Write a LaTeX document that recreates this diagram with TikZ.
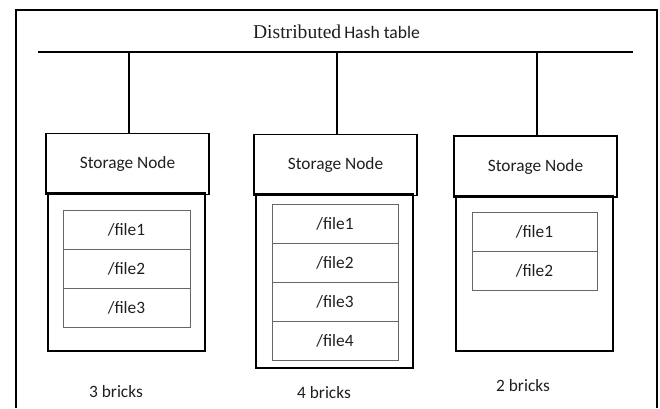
\documentclass[tikz,border=0pt]{standalone}
\usepackage{fontspec}
\setmainfont{Carlito}
\newfontfamily\timesf{Liberation Serif}
\begin{document}
\begin{tikzpicture}[x=0.75pt,y=-0.75pt,
  every node/.style={inner sep=0pt,outer sep=0pt,text=black!88},
  snode/.style={draw=black,line width=1.1pt,minimum width=122.25pt,minimum height=45.75pt,font=\fontsize{13}{15}\selectfont},
  obox/.style={draw=black,line width=1.1pt,minimum width=117.75pt},
  frow/.style={draw=black!60,line width=0.7pt,minimum height=29.25pt,font=\fontsize{13}{15}\selectfont},
  lbl/.style={font=\fontsize{13}{15}\selectfont},
  wire/.style={line width=1.1pt}]
\useasboundingbox (0,0) rectangle (660,408);
\draw[line width=1.5pt] (16,408) -- (16,10) -- (657,10) -- (657,408);
\node[anchor=base] (title) at (336.5,38) {{\timesf\fontsize{14.7}{16}\selectfont Distributed} {\fontsize{13.2}{15}\selectfont Hash table}};
\coordinate (busL) at (38,52);
\coordinate (busR) at (633,52);
\draw[line width=1.6pt] (busL) -- (busR);
\coordinate (b1) at (129,52);
\coordinate (b2) at (337,52);
\coordinate (b3) at (537,52);
% node 1
\node[snode] (sn1) at (127.5,164) {Storage Node};
\node[obox,minimum height=118.5pt] (ob1) at (126.5,272) {};
\node[frow,minimum width=95.25pt] (f11) at (126.5,229.5) {/file1};
\node[frow,minimum width=95.25pt] (f12) at (126.5,268.5) {/file2};
\node[frow,minimum width=95.25pt] (f13) at (126.5,307.5) {/file3};
\node[lbl] (l1) at (116,392) {3 bricks};
% node 2
\node[snode] (sn2) at (335.5,165) {Storage Node};
\node[obox,minimum height=130.5pt] (ob2) at (334.5,281) {};
\node[frow,minimum width=94.5pt] (f21) at (335,223.5) {/file1};
\node[frow,minimum width=94.5pt] (f22) at (335,262.5) {/file2};
\node[frow,minimum width=94.5pt] (f23) at (335,301.5) {/file3};
\node[frow,minimum width=94.5pt] (f24) at (335,340.5) {/file4};
\node[lbl] (l2) at (324,393) {4 bricks};
% node 3
\node[snode] (sn3) at (535.5,166.5) {Storage Node};
\node[obox,minimum height=116.25pt] (ob3) at (534.5,273.5) {};
\node[frow,minimum width=93.75pt] (f31) at (534.5,231.5) {/file1};
\node[frow,minimum width=93.75pt] (f32) at (534.5,270.5) {/file2};
\node[lbl] (l3) at (523,386) {2 bricks};
% connectors
\draw[wire] (b1) -- (b1 |- sn1.north);
\draw[wire] (b2) -- (b2 |- sn2.north);
\draw[wire] (b3) -- (b3 |- sn3.north);
\end{tikzpicture}
\end{document}
